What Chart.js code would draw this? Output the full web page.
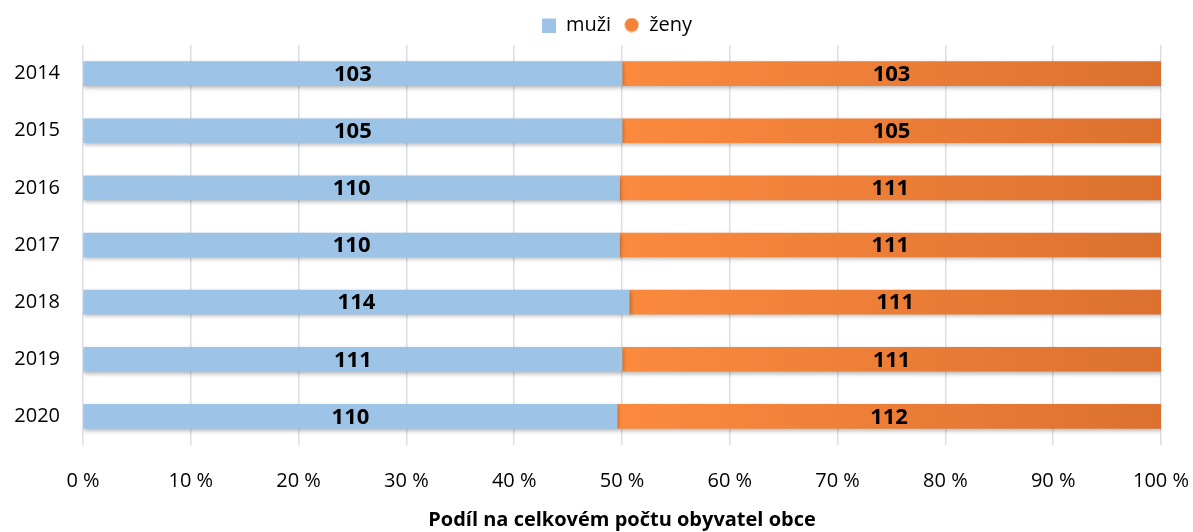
<!DOCTYPE html>
<html>
<head>
<meta charset="utf-8">
<script src="https://cdn.jsdelivr.net/npm/chart.js@4.4.1/dist/chart.umd.min.js"></script>
<style>
    html, body { margin: 0; padding: 0; background: #fff; }
    #wrap { width: 1193px; height: 532px; }
</style>
</head>
<body>
<div id="wrap"><canvas id="chart"></canvas></div>
<script>
const years = ['2014', '2015', '2016', '2017', '2018', '2019', '2020'];
const muzi = [103, 105, 110, 110, 114, 111, 110];
const zeny = [103, 105, 111, 111, 111, 111, 112];

const FONT = "'Open Sans', 'Noto Sans', sans-serif";

// podil v procentech z absolutnich poctu
const share = (a, b) => a.map((v, i) => v / (v + b[i]) * 100);

const counts = [muzi, zeny];

// male ikonky do legendy
const legendIcon = (color, round) => {
    const c = document.createElement('canvas');
    c.width = 15;
    c.height = 15;
    const g = c.getContext('2d');
    g.fillStyle = color;
    if (round) {
        g.beginPath();
        g.arc(7.5, 7.5, 7, 0, Math.PI * 2);
        g.fill();
    } else {
        g.fillRect(1, 1, 14, 14);
    }
    return c;
};
const legendIcons = [legendIcon('#9dc3e6', false), legendIcon('#f4833a', true)];

const barShadow = {
    id: 'barShadow',
    beforeDatasetsDraw(chart) {
        const ctx = chart.ctx;
        ctx.save();
        ctx.shadowColor = 'rgba(0,0,0,0.28)';
        ctx.shadowBlur = 4;
        ctx.shadowOffsetX = 1;
        ctx.shadowOffsetY = 2;
    },
    afterDatasetsDraw(chart) {
        chart.ctx.restore();
    }
};

const valueLabels = {
    id: 'valueLabels',
    afterDatasetsDraw(chart) {
        const ctx = chart.ctx;
        ctx.save();
        ctx.font = `bold 22px ${FONT}`;
        ctx.fillStyle = '#000';
        ctx.textAlign = 'center';
        ctx.textBaseline = 'middle';
        chart.data.datasets.forEach((ds, di) => {
            chart.getDatasetMeta(di).data.forEach((bar, i) => {
                const p = bar.getCenterPoint();
                ctx.fillText(String(counts[di][i]), p.x, p.y + 1);
            });
        });
        ctx.restore();
    }
};

// legenda je v predloze trochu posunuta doprava
const legendShift = {
    id: 'legendShift',
    afterLayout(chart) {
        chart.legend.left += 36;
        chart.legend.right += 36;
    }
};

const orangeFill = (context) => {
    const area = context.chart.chartArea;
    if (!area) return '#f0803a';
    const g = context.chart.ctx.createLinearGradient(area.left, 0, area.right, 0);
    g.addColorStop(0, '#fb8b40');
    g.addColorStop(0.5, '#fb8a3e');
    g.addColorStop(1, '#dc712f');
    return g;
};

const ctx = document.getElementById('chart');
new Chart(ctx, {
    type: 'bar',
    data: {
        labels: years,
        datasets: [{
            label: 'muži',
            data: share(muzi, zeny),
            backgroundColor: '#9dc3e6',
            borderWidth: 0,
            barThickness: 24
        }, {
            label: 'ženy',
            data: share(zeny, muzi),
            backgroundColor: orangeFill,
            borderWidth: 0,
            barThickness: 24
        }]
    },
    options: {
        indexAxis: 'y',
        responsive: true,
        maintainAspectRatio: false,
        animation: false,
        layout: {
            padding: { left: 0, right: 32, top: 2, bottom: 0 }
        },
        plugins: {
            tooltip: { enabled: false },
            legend: {
                position: 'top',
                labels: {
                    color: '#000',
                    font: { family: FONT, size: 20 },
                    usePointStyle: true,
                    boxWidth: 15,
                    boxHeight: 15,
                    padding: 13,
                    generateLabels: (chart) => {
                        const items = Chart.defaults.plugins.legend.labels.generateLabels(chart);
                        items.forEach((it, i) => {
                            it.pointStyle = legendIcons[i];
                            it.lineWidth = 0;
                        });
                        return items;
                    }
                }
            }
        },
        scales: {
            x: {
                stacked: true,
                min: 0,
                max: 100,
                ticks: {
                    stepSize: 10,
                    padding: 24,
                    color: '#000',
                    font: { family: FONT, size: 20 },
                    callback: (v) => `${v} %`
                },
                grid: {
                    color: '#d9dee7',
                    lineWidth: 1.5,
                    drawTicks: false
                },
                border: { display: false },
                title: {
                    display: true,
                    text: 'Podíl na celkovém počtu obyvatel obce',
                    color: '#000',
                    font: { family: FONT, size: 20, weight: 'bold' },
                    padding: { top: 0, bottom: 0 }
                },
                afterFit: (scale) => {
                    scale.height = 87;
                    scale.paddingLeft = 0;
                    scale.paddingRight = 0;
                }
            },
            y: {
                stacked: true,
                ticks: {
                    padding: 23,
                    color: '#000',
                    font: { family: FONT, size: 20 }
                },
                grid: { display: false, drawTicks: false },
                border: { display: false },
                afterFit: (scale) => { scale.width = 83; }
            }
        }
    },
    plugins: [barShadow, valueLabels, legendShift]
});
</script>
</body>
</html>
